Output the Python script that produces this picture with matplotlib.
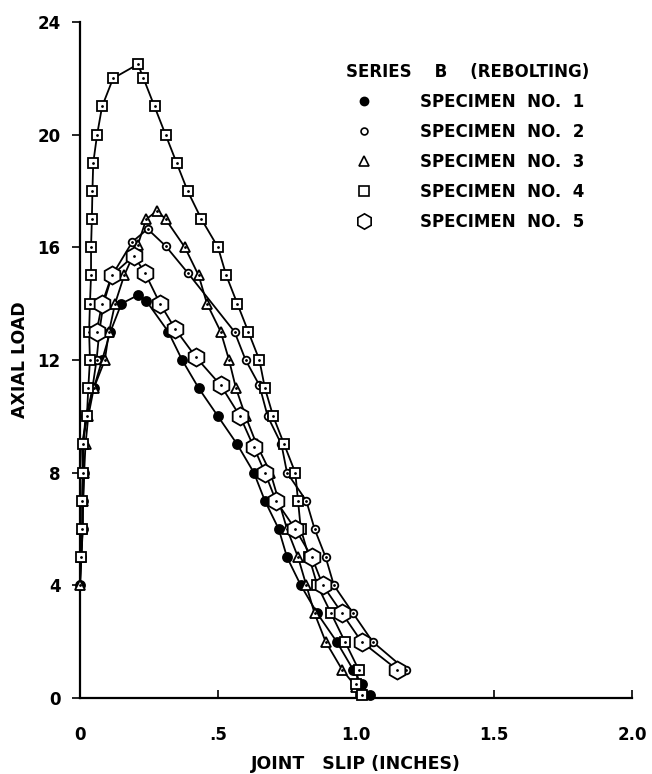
import matplotlib
matplotlib.use("Agg")
import matplotlib.pyplot as plt
from matplotlib.lines import Line2D

# joint slip (inches) / axial load, per specimen
spec1_x = [0.0, 0.005, 0.01, 0.01, 0.015, 0.012, 0.02, 0.05, 0.08, 0.11, 0.15, 0.21, 0.24,
           0.32, 0.37, 0.43, 0.50, 0.57, 0.63, 0.67, 0.72, 0.75, 0.80, 0.86, 0.93, 0.99, 1.02, 1.05]
spec1_y = [4, 5, 6, 7, 8, 9, 10, 11, 12, 13, 14, 14.3, 14.1,
           13, 12, 11, 10, 9, 8, 7, 6, 5, 4, 3, 2, 1, 0.5, 0.1]

spec2_x = [0.003, 0.01, 0.008, 0.01, 0.007, 0.025, 0.045, 0.06, 0.07, 0.085, 0.116, 0.19, 0.245,
           0.31, 0.39, 0.56, 0.60, 0.65, 0.68, 0.73, 0.75, 0.82, 0.85, 0.89, 0.92, 0.99, 1.06, 1.18]
spec2_y = [5, 6, 7, 8, 9, 10, 11, 12, 13, 14, 15, 16.2, 16.65,
           16.05, 15.1, 13, 12, 11.1, 10, 9, 8, 7, 6, 5, 4, 3, 2, 1]

spec3_x = [0.0, 0.005, 0.008, 0.012, 0.015, 0.02, 0.03, 0.05, 0.09, 0.105, 0.127, 0.16, 0.21,
           0.24, 0.28, 0.31, 0.38, 0.43, 0.46, 0.51, 0.54, 0.565, 0.60, 0.64, 0.69, 0.72, 0.75,
           0.79, 0.82, 0.85, 0.89, 0.95, 1.0]
spec3_y = [4, 5, 6, 7, 8, 9, 10, 11, 12, 13, 14, 15, 16.1,
           17, 17.3, 17, 16, 15, 14, 13, 12, 11, 10, 9, 8, 7, 6,
           5, 4, 3, 2, 1, 0.4]

spec4_x = [0.003, 0.008, 0.008, 0.01, 0.01, 0.025, 0.03, 0.036, 0.033, 0.036, 0.04, 0.04, 0.043,
           0.045, 0.048, 0.062, 0.08, 0.12, 0.21, 0.23, 0.27, 0.31, 0.35, 0.39, 0.44, 0.50, 0.53,
           0.57, 0.61, 0.65, 0.67, 0.70, 0.74, 0.78, 0.79, 0.80, 0.83, 0.86, 0.91, 0.96, 1.01,
           1.0, 1.02]
spec4_y = [5, 6, 7, 8, 9, 10, 11, 12, 13, 14, 15, 16, 17,
           18, 19, 20, 21, 22, 22.5, 22, 21, 20, 19, 18, 17, 16, 15,
           14, 13, 12, 11, 10, 9, 8, 7, 6, 5, 4, 3, 2, 1,
           0.5, 0.1]

spec5_x = [0.06, 0.08, 0.115, 0.195, 0.235, 0.29, 0.345, 0.42, 0.51, 0.58, 0.63, 0.67, 0.71,
           0.78, 0.84, 0.88, 0.95, 1.02, 1.15]
spec5_y = [13, 14, 15, 15.7, 15.1, 14, 13.1, 12.1, 11.1, 10, 8.9, 8, 7,
           6, 5, 4, 3, 2, 1]

labels = ["SPECIMEN  NO.  1", "SPECIMEN  NO.  2", "SPECIMEN  NO.  3",
          "SPECIMEN  NO.  4", "SPECIMEN  NO.  5"]
x_ticks = [0, 0.5, 1.0, 1.5, 2.0]
x_tick_labels = ["0", ".5", "1.0", "1.5", "2.0"]
y_ticks = [0, 4, 8, 12, 16, 20, 24]

series = [
    (spec1_x, spec1_y, "o", 6.5, "black", False),
    (spec2_x, spec2_y, "o", 5.5, "white", True),
    (spec3_x, spec3_y, "^", 7.5, "white", True),
    (spec4_x, spec4_y, "s", 7.5, "white", True),
    (spec5_x, spec5_y, "h", 13, "white", True),
]

plt.rcParams["font.family"] = "DejaVu Sans"
fig = plt.figure(figsize=(6.52, 7.74), dpi=100)
ax = fig.add_axes([0.1227, 0.0982, 0.8466, 0.8734])

handles = []
for i, (xs, ys, mk, ms, fc, dot) in enumerate(series):
    ax.plot(xs, ys, color="black", lw=1.3, marker=mk, ms=ms, mfc=fc, mec="black",
            mew=1.3, clip_on=False, zorder=3 + i)
    if dot:
        ax.plot(xs, ys, ls="none", marker=".", ms=2, color="black",
                clip_on=False, zorder=3 + i)
    handles.append(Line2D([], [], ls="none", marker=mk, ms=ms * (0.85 if mk == "h" else 0.9),
                          mfc=fc, mec="black", mew=1.2))

ax.set_xlim(0, 2.0)
ax.set_ylim(0, 24)
ax.spines["top"].set_visible(False)
ax.spines["right"].set_visible(False)
ax.spines["left"].set_linewidth(1.6)
ax.spines["bottom"].set_linewidth(1.6)
ax.set_xticks(x_ticks)
ax.set_xticklabels(x_tick_labels)
ax.set_yticks(y_ticks)
ax.tick_params(axis="x", direction="in", length=6, width=1.2, pad=20, labelsize=12)
ax.tick_params(axis="y", direction="out", length=6, width=1.2, pad=8, labelsize=12)
for t in ax.get_xticklabels() + ax.get_yticklabels():
    t.set_fontweight("bold")

ax.set_xlabel("JOINT   SLIP (INCHES)", fontsize=12.5, fontweight="bold", labelpad=8)
ax.set_ylabel("AXIAL LOAD", fontsize=12.5, fontweight="bold", labelpad=6)

leg = ax.legend(handles, labels, loc="upper left", bbox_to_anchor=(0.455, 0.962),
                frameon=False, title="SERIES    B    (REBOLTING)", handletextpad=2.6,
                labelspacing=0.72, handlelength=1.5,
                prop={"weight": "bold", "size": 12},
                title_fontproperties={"weight": "bold", "size": 12})

fig.savefig("out.png", dpi=100)
